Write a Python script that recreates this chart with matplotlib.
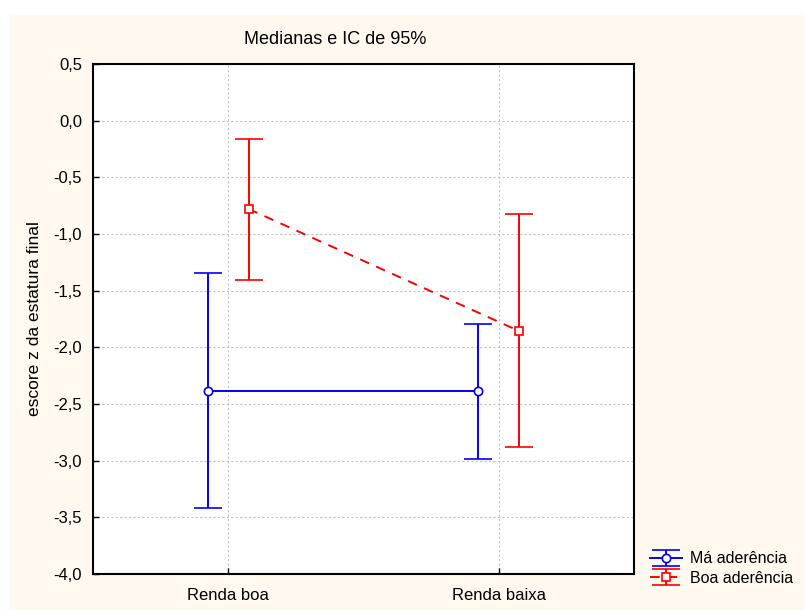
import matplotlib
matplotlib.use('Agg')
import matplotlib.pyplot as plt
import numpy as np
from matplotlib.patches import Rectangle
from matplotlib.ticker import FuncFormatter

plt.rcParams['font.family'] = ['Liberation Sans', 'DejaVu Sans']

grupos = ['Renda boa', 'Renda baixa']
series = ['Má aderência', 'Boa aderência']

# medianas e limites do IC de 95%
med_ma = [-2.385, -2.385]
inf_ma = [-3.418, -2.985]
sup_ma = [-1.344, -1.794]

med_boa = [-0.779, -1.856]
inf_boa = [-1.406, -2.880]
sup_boa = [-0.162, -0.824]

fig = plt.figure(figsize=(8.05, 6.10), dpi=100)
fig.patch.set_facecolor('white')
fig.patches.append(Rectangle((10 / 805, 0), 1, 595 / 610, transform=fig.transFigure,
                             facecolor='#fff9ef', edgecolor='none', zorder=-10))

ax = fig.add_axes([93 / 805, 36 / 610, 541 / 805, 510 / 610])
ax.set_facecolor('white')

x = np.arange(1, len(grupos) + 1)
dx = 0.075

def ic(med, inf, sup):
    med = np.array(med)
    return [med - np.array(inf), np.array(sup) - med]

ax.errorbar(x - dx, med_ma, yerr=ic(med_ma, inf_ma, sup_ma), color='#0000ff',
            lw=1.4, elinewidth=1.4, capsize=10, capthick=1.4,
            marker='o', ms=6, mfc='white', mec='#0000ff', mew=1.2,
            label=series[0], zorder=3)
ax.errorbar(x + dx, med_boa, yerr=ic(med_boa, inf_boa, sup_boa), color='#ff0000',
            lw=1.4, elinewidth=1.4, capsize=10, capthick=1.4, ls=(0, (5, 4)),
            marker='s', ms=6, mfc='white', mec='#ff0000', mew=1.2,
            label=series[1], zorder=3)

ax.set_xlim(0.5, 2.5)
ax.set_ylim(-4.0, 0.5)
ax.set_xticks(x)
ax.set_xticklabels(grupos)
ax.set_yticks(np.arange(-4.0, 0.51, 0.5))
ax.yaxis.set_major_formatter(FuncFormatter(lambda v, p: ('%.1f' % v).replace('.', ',')))
ax.tick_params(direction='in', length=4, width=1, labelsize=12, colors='black', pad=8)
ax.tick_params(axis='x', pad=10)
ax.grid(True, color='#c0c0c0', ls=(0, (2, 2)), lw=0.8)
ax.set_axisbelow(True)
for s in ax.spines.values():
    s.set_linewidth(1.5)

ax.set_ylabel('escore z da estatura final', fontsize=12.5, labelpad=8)
fig.text(335 / 805, 1 - 39 / 610, 'Medianas e IC de 95%', ha='center', va='center', fontsize=13)

fig.legend(loc='lower left', bbox_to_anchor=(650 / 805, 24 / 610), frameon=False,
           fontsize=11.5, handlelength=2.0, handletextpad=0.5, labelspacing=0.3,
           borderaxespad=0, borderpad=0)

fig.savefig('out.png', dpi=100)
